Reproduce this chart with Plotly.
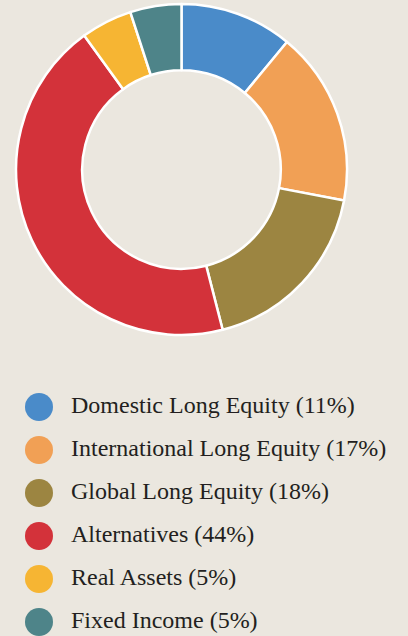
import plotly.graph_objects as go

labels = ["Domestic Long Equity", "International Long Equity", "Global Long Equity",
          "Alternatives", "Real Assets", "Fixed Income"]
values = [11, 17, 18, 44, 5, 5]
colors = ["#4a8bc9", "#f1a055", "#9c8541", "#d3323a", "#f6b533", "#4e8489"]
bg = "#ebe7df"

legend_text = [f"{l} ({v}%)" for l, v in zip(labels, values)]
idx = list(range(len(labels)))

fig = go.Figure()
fig.add_trace(go.Pie(
    labels=labels, values=values, hole=0.6, sort=False, direction="clockwise",
    rotation=0, marker=dict(colors=colors, line=dict(color="white", width=2.5)),
    textinfo="none", hoverinfo="label+percent", showlegend=False,
    domain=dict(x=[16/408, 347/408], y=[1-335/636, 1-4/636]),
))
fig.add_trace(go.Scatter(
    x=[39]*len(idx), y=idx, mode="markers",
    marker=dict(color=colors, size=28, line=dict(width=0)),
    showlegend=False, hoverinfo="skip",
))
fig.add_trace(go.Scatter(
    x=[71]*len(idx), y=idx, mode="text", text=legend_text,
    textposition="middle right",
    textfont=dict(family="Liberation Serif", size=24, color="#231f20"),
    showlegend=False, hoverinfo="skip",
))
fig.update_layout(
    width=408, height=636, margin=dict(l=0, r=0, t=0, b=0),
    paper_bgcolor=bg, plot_bgcolor=bg,
    xaxis=dict(range=[0, 408], visible=False, fixedrange=True),
    yaxis=dict(range=[636/43 - 407/43, -407/43], visible=False, fixedrange=True),
)
fig.write_html(
    "out.html",
    config={"displayModeBar": False},
    post_script="document.body.style.margin='0';document.body.style.overflow='hidden';",
)
